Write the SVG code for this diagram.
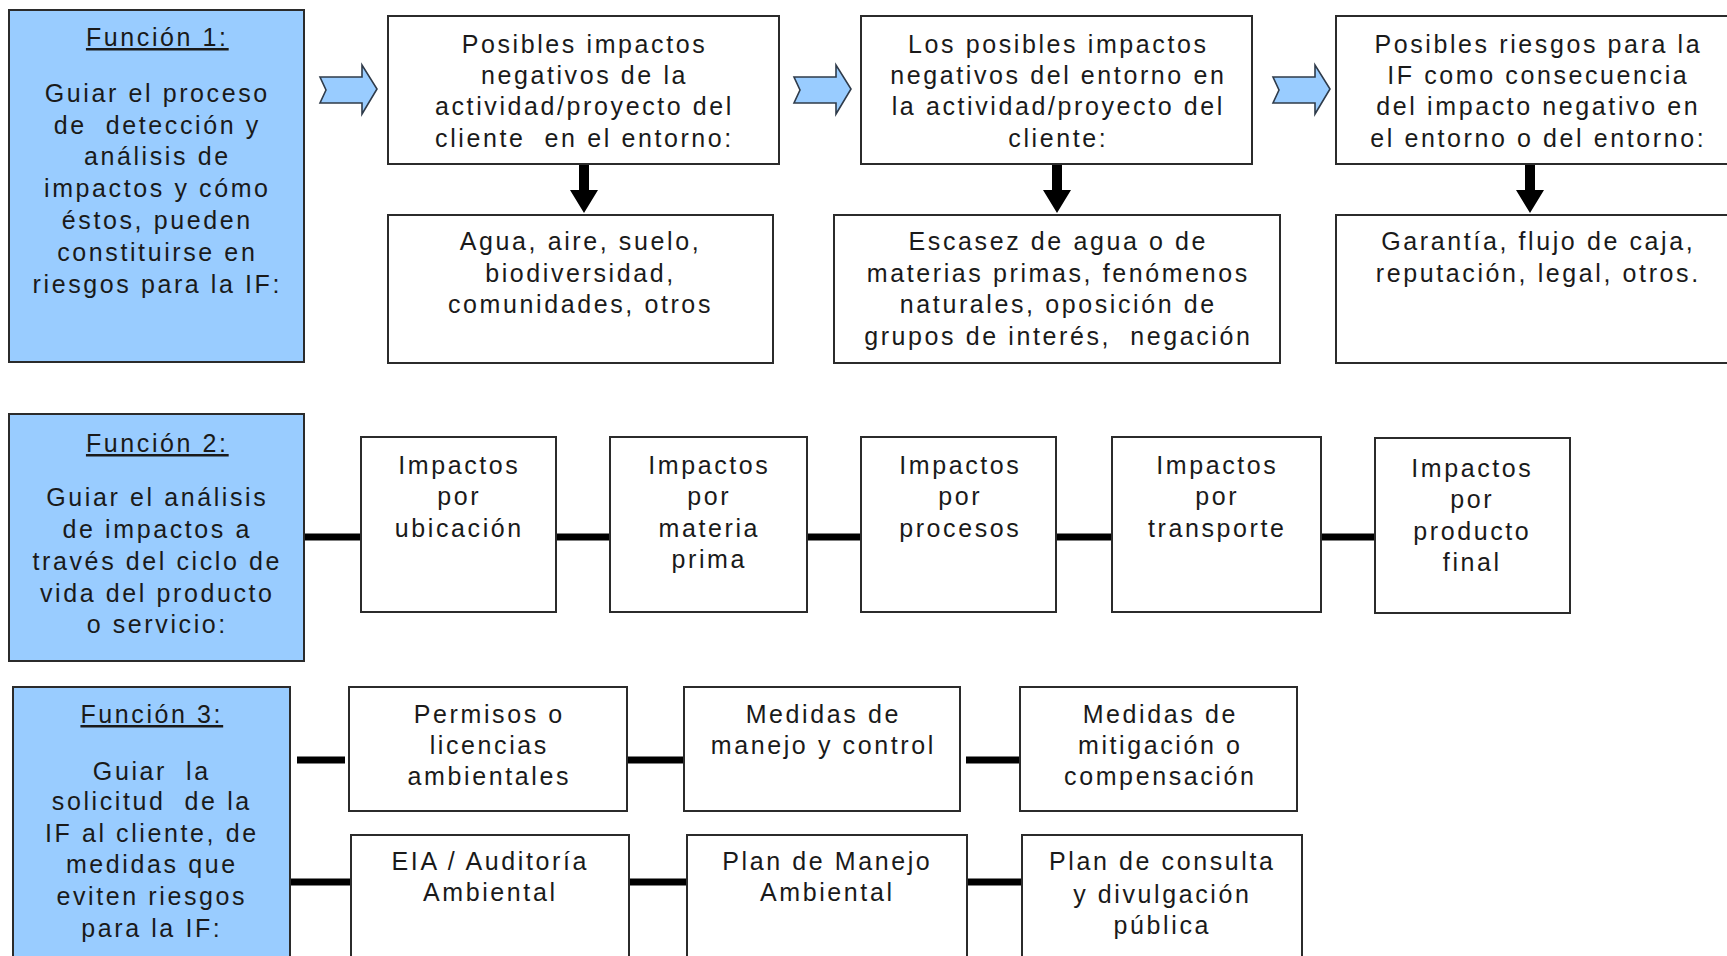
<svg xmlns="http://www.w3.org/2000/svg" width="1727" height="956" viewBox="0 0 1727 956" xml:space="preserve">
<style>
.box{fill:#ffffff;stroke:#2b2b2b;stroke-width:2}
.fn{fill:#99ccff;stroke:#2b2b2b;stroke-width:2}
.t{font-family:"Liberation Sans",Arial,sans-serif;font-size:25px;letter-spacing:2.6px;fill:#1a1a1a;text-anchor:middle;white-space:pre}
.u{text-decoration:underline}
.bar{stroke:#000;stroke-width:7;fill:none}
.blk{fill:#99ccff;stroke:#2f3b4a;stroke-width:1.6;stroke-linejoin:miter}
.dn{fill:#000}
</style>
<rect width="1727" height="956" fill="#ffffff"/>

<g id="connectors">
  <polygon class="blk" points="320,77 362,77 362,65 377,89 362,114 362,103 320,103 326,90"/>
  <polygon class="blk" points="794,77 836,77 836,65 851,89 836,114 836,103 794,103 800,90"/>
  <polygon class="blk" points="1273,77 1315,77 1315,65 1330,89 1315,114 1315,103 1273,103 1279,90"/>
  <polygon class="dn" points="579,164 589,164 589,190 598,190 584,213 570,190 579,190"/>
  <polygon class="dn" points="1052,164 1062,164 1062,190 1071,190 1057,213 1043,190 1052,190"/>
  <polygon class="dn" points="1525,164 1535,164 1535,190 1544,190 1530,213 1516,190 1525,190"/>
  <line class="bar" x1="304" y1="537" x2="361" y2="537"/>
  <line class="bar" x1="556" y1="537" x2="610" y2="537"/>
  <line class="bar" x1="807" y1="537" x2="861" y2="537"/>
  <line class="bar" x1="1056" y1="537" x2="1112" y2="537"/>
  <line class="bar" x1="1321" y1="537" x2="1375" y2="537"/>
  <line class="bar" x1="297" y1="760" x2="345" y2="760"/>
  <line class="bar" x1="627" y1="760" x2="684" y2="760"/>
  <line class="bar" x1="966" y1="760" x2="1020" y2="760"/>
  <line class="bar" x1="291" y1="882" x2="351" y2="882"/>
  <line class="bar" x1="629" y1="882" x2="687" y2="882"/>
  <line class="bar" x1="967" y1="882" x2="1022" y2="882"/>
</g>

<g id="funcion1">
  <rect class="fn" x="9" y="10" width="295" height="352"/>
  <text class="t u" x="157.3" y="46">Función 1:</text>
  <text class="t" x="157.3" y="102">Guiar el proceso</text>
  <text class="t" x="157.3" y="134">de  detección y</text>
  <text class="t" x="157.3" y="165">análisis de</text>
  <text class="t" x="157.3" y="197">impactos y cómo</text>
  <text class="t" x="157.3" y="229">éstos, pueden</text>
  <text class="t" x="157.3" y="261">constituirse en</text>
  <text class="t" x="157.3" y="293">riesgos para la IF:</text>
</g>

<g id="a1">
  <rect class="box" x="388" y="16" width="391" height="148"/>
  <text class="t" x="584.5" y="53">Posibles impactos</text>
  <text class="t" x="584.5" y="84">negativos de la</text>
  <text class="t" x="584.5" y="115">actividad/proyecto del</text>
  <text class="t" x="584.5" y="147">cliente  en el entorno:</text>
</g>
<g id="a2">
  <rect class="box" x="388" y="215" width="385" height="148"/>
  <text class="t" x="580.5" y="250">Agua, aire, suelo,</text>
  <text class="t" x="580.5" y="282">biodiversidad,</text>
  <text class="t" x="580.5" y="313">comunidades, otros</text>
</g>

<g id="b1">
  <rect class="box" x="861" y="16" width="391" height="148"/>
  <text class="t" x="1058.3" y="53">Los posibles impactos</text>
  <text class="t" x="1058.3" y="84">negativos del entorno en</text>
  <text class="t" x="1058.3" y="115">la actividad/proyecto del</text>
  <text class="t" x="1058.3" y="147">cliente:</text>
</g>
<g id="b2">
  <rect class="box" x="834" y="215" width="446" height="148"/>
  <text class="t" x="1058.3" y="250">Escasez de agua o de</text>
  <text class="t" x="1058.3" y="282">materias primas, fenómenos</text>
  <text class="t" x="1058.3" y="313">naturales, oposición de</text>
  <text class="t" x="1058.3" y="345">grupos de interés,  negación</text>
</g>

<g id="c1">
  <rect class="box" x="1336" y="16" width="410" height="148"/>
  <text class="t" x="1538.3" y="53">Posibles riesgos para la</text>
  <text class="t" x="1538.3" y="84">IF como consecuencia</text>
  <text class="t" x="1538.3" y="115">del impacto negativo en</text>
  <text class="t" x="1538.3" y="147">el entorno o del entorno:</text>
</g>
<g id="c2">
  <rect class="box" x="1336" y="215" width="410" height="148"/>
  <text class="t" x="1538.3" y="250">Garantía, flujo de caja,</text>
  <text class="t" x="1538.3" y="282">reputación, legal, otros.</text>
</g>

<g id="funcion2">
  <rect class="fn" x="9" y="414" width="295" height="247"/>
  <text class="t u" x="157.3" y="452">Función 2:</text>
  <text class="t" x="157.3" y="506">Guiar el análisis</text>
  <text class="t" x="157.3" y="538">de impactos a</text>
  <text class="t" x="157.3" y="570">través del ciclo de</text>
  <text class="t" x="157.3" y="602">vida del producto</text>
  <text class="t" x="157.3" y="633">o servicio:</text>
</g>

<g id="ubicacion">
  <rect class="box" x="361" y="437" width="195" height="175"/>
  <text class="t" x="459.3" y="474">Impactos</text>
  <text class="t" x="459.3" y="505">por</text>
  <text class="t" x="459.3" y="537">ubicación</text>
</g>
<g id="materia">
  <rect class="box" x="610" y="437" width="197" height="175"/>
  <text class="t" x="709.3" y="474">Impactos</text>
  <text class="t" x="709.3" y="505">por</text>
  <text class="t" x="709.3" y="537">materia</text>
  <text class="t" x="709.3" y="568">prima</text>
</g>
<g id="procesos">
  <rect class="box" x="861" y="437" width="195" height="175"/>
  <text class="t" x="960.3" y="474">Impactos</text>
  <text class="t" x="960.3" y="505">por</text>
  <text class="t" x="960.3" y="537">procesos</text>
</g>
<g id="transporte">
  <rect class="box" x="1112" y="437" width="209" height="175"/>
  <text class="t" x="1217.3" y="474">Impactos</text>
  <text class="t" x="1217.3" y="505">por</text>
  <text class="t" x="1217.3" y="537">transporte</text>
</g>
<g id="producto">
  <rect class="box" x="1375" y="438" width="195" height="175"/>
  <text class="t" x="1472.3" y="477">Impactos</text>
  <text class="t" x="1472.3" y="508">por</text>
  <text class="t" x="1472.3" y="540">producto</text>
  <text class="t" x="1472.3" y="571">final</text>
</g>

<g id="funcion3">
  <rect class="fn" x="13" y="687" width="277" height="290"/>
  <text class="t u" x="151.8" y="723">Función 3:</text>
  <text class="t" x="151.8" y="780">Guiar  la</text>
  <text class="t" x="151.8" y="810">solicitud  de la</text>
  <text class="t" x="151.8" y="842">IF al cliente, de</text>
  <text class="t" x="151.8" y="873">medidas que</text>
  <text class="t" x="151.8" y="905">eviten riesgos</text>
  <text class="t" x="151.8" y="937">para la IF:</text>
</g>

<g id="permisos">
  <rect class="box" x="349" y="687" width="278" height="124"/>
  <text class="t" x="489.3" y="723">Permisos o</text>
  <text class="t" x="489.3" y="754">licencias</text>
  <text class="t" x="489.3" y="785">ambientales</text>
</g>
<g id="manejo">
  <rect class="box" x="684" y="687" width="276" height="124"/>
  <text class="t" x="823.3" y="723">Medidas de</text>
  <text class="t" x="823.3" y="754">manejo y control</text>
</g>
<g id="mitigacion">
  <rect class="box" x="1020" y="687" width="277" height="124"/>
  <text class="t" x="1160.3" y="723">Medidas de</text>
  <text class="t" x="1160.3" y="754">mitigación o</text>
  <text class="t" x="1160.3" y="785">compensación</text>
</g>
<g id="eia">
  <rect class="box" x="351" y="835" width="278" height="140"/>
  <text class="t" x="490.3" y="870">EIA / Auditoría</text>
  <text class="t" x="490.3" y="901">Ambiental</text>
</g>
<g id="pma">
  <rect class="box" x="687" y="835" width="280" height="140"/>
  <text class="t" x="827.3" y="870">Plan de Manejo</text>
  <text class="t" x="827.3" y="901">Ambiental</text>
</g>
<g id="consulta">
  <rect class="box" x="1022" y="835" width="280" height="140"/>
  <text class="t" x="1162.3" y="870">Plan de consulta</text>
  <text class="t" x="1162.3" y="903">y divulgación</text>
  <text class="t" x="1162.3" y="934">pública</text>
</g>
</svg>
